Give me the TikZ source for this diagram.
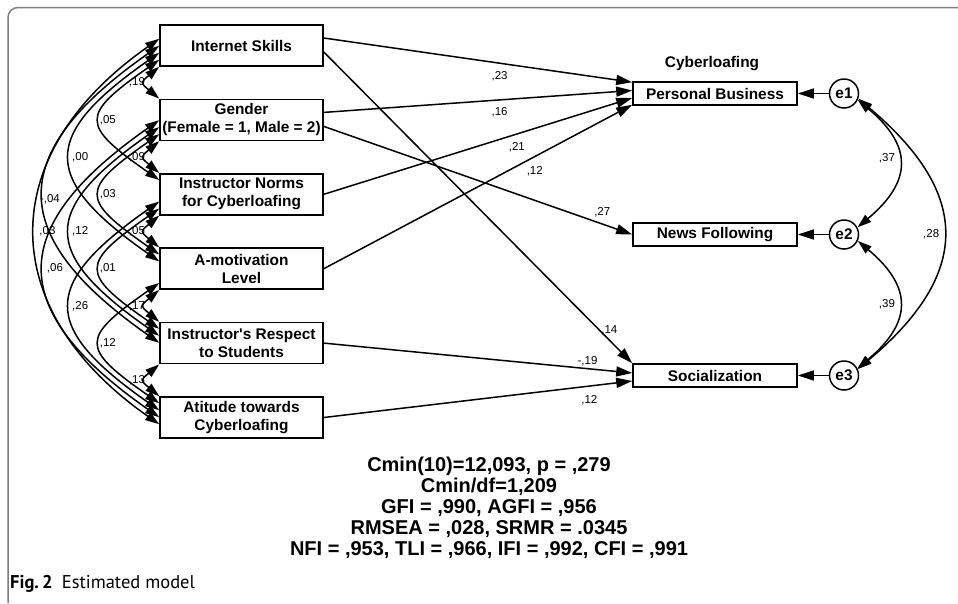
\documentclass[tikz,border=0pt]{standalone}
\usepackage{fontspec}
\setmainfont{Liberation Sans}
\newfontfamily\capfont{PT Sans}
\usetikzlibrary{arrows.meta,calc}
\begin{document}
\begin{tikzpicture}[x=1pt,y=1pt,
  var/.style={draw,line width=1.6pt,minimum width=163pt,minimum height=41pt,inner sep=0pt,align=center,
    font=\fontsize{15.4}{18}\selectfont\bfseries},
  dep/.style={draw,line width=1.6pt,minimum width=164pt,minimum height=23pt,inner sep=0pt,
    font=\fontsize{15.4}{18}\selectfont\bfseries},
  err/.style={draw,circle,line width=1.5pt,minimum size=29pt,inner sep=0pt,
    font=\fontsize{15.4}{18}\selectfont\bfseries},
  lbl/.style={font=\fontsize{11.5}{12}\selectfont,inner sep=0pt},
  arr/.style={line width=1.5pt,-{Triangle[length=16pt,width=10pt]}},
  cov/.style={line width=1.5pt,{Triangle[length=14pt,width=9pt]}-{Triangle[length=14pt,width=9pt]}},
  ca/.style={cov,out=220,in=140,looseness=2.0},
  cb/.style={cov,out=215,in=145,looseness=2.06},
  cc/.style={cov,out=215,in=145,looseness=1.78},
  cd/.style={cov,out=215,in=145,looseness=1.62},
  ce/.style={cov,out=215,in=145,looseness=1.34},
  rc/.style={cov,out=-40,in=40},
]
\useasboundingbox (0,0) rectangle (958,-603);
% frame
\draw[black!50,line width=1.5pt,rounded corners=10pt] (8,-603) -- (8,-7.5) -- (958,-7.5);

% exogenous variables
\node[var] (b0) at (241.5,-45.5) {Internet Skills};
\node[var] (b1) at (241.5,-119.9) {Gender\\(Female = 1, Male = 2)};
\node[var] (b2) at (241.5,-194.3) {Instructor Norms\\for Cyberloafing};
\node[var] (b3) at (241.5,-268.7) {A-motivation\\Level};
\node[var] (b4) at (241.5,-343.1) {Instructor\textquotesingle s Respect\\to Students};
\node[var] (b5) at (241.5,-417.5) {Atitude towards\\Cyberloafing};

% endogenous variables
\node[dep] (pb) at (715,-93.5) {Personal Business};
\node[dep] (nf) at (715,-234.5) {News Following};
\node[dep] (soc) at (715,-375.5) {Socialization};
\node[font=\fontsize{15.4}{18}\selectfont\bfseries] (cyb) at (712,-64) {Cyberloafing};

\node[err] (e1) at (844,-93.5) {e1};
\node[err] (e2) at (844,-234.5) {e2};
\node[err] (e3) at (844,-375.5) {e3};

\draw[arr] (e1) -- (pb);
\draw[arr] (e2) -- (nf);
\draw[arr] (e3) -- (soc);

% regression paths
\draw[arr] ($(b0.east)+(0,7.5)$) -- node[lbl,pos=0.57,yshift=-13]{,23} ($(pb.north west)+(0,-1)$);
\draw[arr] ($(b1.east)+(0,7.5)$) -- node[lbl,pos=0.57,yshift=-12.5]{,16} ($(pb.west)+(0,3)$);
\draw[arr] (b2.east) -- node[lbl,pos=0.626,yshift=-13]{,21} ($(pb.west)+(0,-4.5)$);
\draw[arr] (b3.east) -- node[lbl,pos=0.684,yshift=-14.5]{,12} ($(pb.south west)+(0,1)$);
\draw[arr] ($(b1.east)+(0,-6.5)$) -- node[lbl,pos=0.903,yshift=12]{,27} (nf.west);
\draw[arr] ($(b0.east)+(0,-6.5)$) -- node[lbl,pos=0.926,yshift=10]{,14} (soc.north west);
\draw[arr] (b4.east) -- node[lbl,pos=0.855,yshift=7.5]{-,19} ($(soc.west)+(0,2.5)$);
\draw[arr] (b5.east) -- node[lbl,pos=0.861,yshift=-14]{,12} ($(soc.west)+(0,-5.5)$);

% covariances among exogenous variables
\draw[ca] (b0.south west) to node[lbl,xshift=-8]{,19} (b1.north west);
\draw[ca] (b1.south west) to node[lbl,xshift=-8]{,09} (b2.north west);
\draw[ca] (b2.south west) to node[lbl,xshift=-8]{,05} (b3.north west);
\draw[ca] (b3.south west) to node[lbl,xshift=-8]{,17} (b4.north west);
\draw[ca] (b4.south west) to node[lbl,xshift=-8]{,13} (b5.north west);

\draw[cb] ($(b0.south west)+(0,7)$) to node[lbl,xshift=8]{,05} ($(b2.north west)+(0,-7)$);
\draw[cb] ($(b1.south west)+(0,7)$) to node[lbl,xshift=8]{,03} ($(b3.north west)+(0,-7)$);
\draw[cb] ($(b2.south west)+(0,7)$) to node[lbl,xshift=8]{,01} ($(b4.north west)+(0,-7)$);
\draw[cb] ($(b3.south west)+(0,7)$) to node[lbl,xshift=8]{,12} ($(b5.north west)+(0,-7)$);

\draw[cc] ($(b0.south west)+(0,14)$) to node[lbl,xshift=10]{,00} ($(b3.north west)+(0,-14)$);
\draw[cc] ($(b1.south west)+(0,14)$) to node[lbl,xshift=10]{,12} ($(b4.north west)+(0,-14)$);
\draw[cc] ($(b2.south west)+(0,14)$) to node[lbl,xshift=10]{,26} ($(b5.north west)+(0,-14)$);

\draw[cd] ($(b0.south west)+(0,21)$) to node[lbl,xshift=6,yshift=-5]{-,04} ($(b4.north west)+(0,-21)$);
\draw[cd] ($(b1.south west)+(0,21)$) to node[lbl,xshift=11]{,06} ($(b5.north west)+(0,-21)$);

\draw[ce] ($(b0.south west)+(0,28)$) to node[lbl,xshift=12]{,03} ($(b5.north west)+(0,-28)$);

% residual covariances
\draw[rc,looseness=1.44] (e1.-25) to node[lbl,xshift=-12,yshift=5]{,37} (e2.28);
\draw[rc,looseness=1.44] (e2.-25) to node[lbl,xshift=-12]{,39} (e3.28);
\draw[rc,looseness=1.40] (e1.-20) to node[lbl,xshift=-12]{,28} (e3.25);

% fit statistics
\node[align=center,font=\fontsize{20}{21}\selectfont\bfseries] (stats) at (489,-508)
  {Cmin(10)=12,093, p = ,279\\Cmin/df=1,209\\GFI = ,990, AGFI = ,956\\RMSEA = ,028, SRMR = .0345\\NFI = ,953, TLI = ,966, IFI = ,992, CFI = ,991};

% caption
\node[anchor=west,inner sep=0pt,font=\capfont\fontsize{18.5}{20}\selectfont] (cap) at (10,-584)
  {\textbf{Fig.\,2}\enspace Estimated model};
\end{tikzpicture}
\end{document}
